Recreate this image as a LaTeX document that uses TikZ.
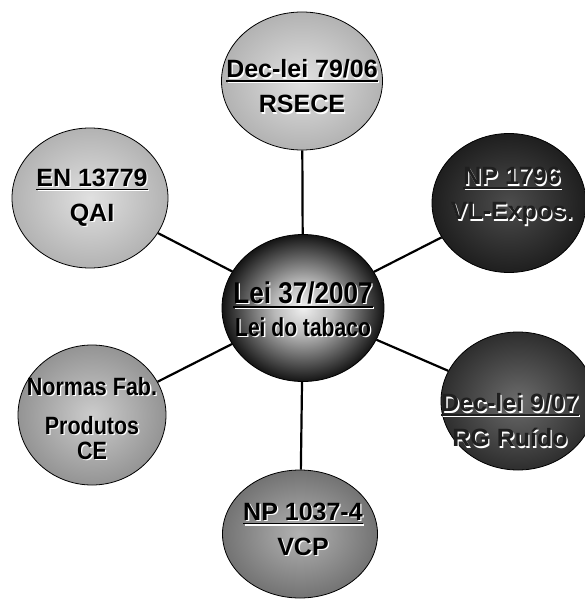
\documentclass[tikz,border=0pt]{standalone}
\usepackage{fontspec}
\setmainfont{Liberation Sans}
\usepackage{graphicx}
\usetikzlibrary{shapes.geometric}

% underline with a heavier rule, and a white drop shadow behind a line
\newcommand{\undl}[1]{\setbox0\hbox{#1}\rlap{\rule[-4pt]{\wd0}{1.6pt}}\box0}
\newcommand{\shtxt}[1]{\rlap{\kern1.3pt\raisebox{-1.3pt}{\color{white}#1}}#1}
\pgfdeclareradialshading{bolha}{\pgfpoint{0bp}{0bp}}{color(0bp)=(black!6);
  color(9bp)=(black!28); color(25bp)=(black!92); color(50bp)=(black!92)}

\begin{document}
\begin{tikzpicture}[x=1pt, y=-1pt, thick,
  bola/.style 2 args={ellipse, draw=black, line width=0.8pt, inner sep=0pt,
    shading=radial, inner color=#1, outer color=#2},
  txt/.style={align=center, inner sep=0pt,
    font=\bfseries\fontsize{25}{35}\selectfont},
  elo/.style={line width=2.2pt}]
  \useasboundingbox[fill=white] (0,0) rectangle (584,599);
  % circulos
  \node[bola={black!12}{black!30}, minimum width=161, minimum height=138] (rsece) at (302,81) {};
  \node[bola={black!12}{black!30}, minimum width=156, minimum height=140] (qai) at (90,198) {};
  \node[bola={black!70}{black!88}, minimum width=154, minimum height=139] (vlexpos) at (509,203) {};
  \node[bola={black!58}{black!82}, minimum width=154, minimum height=138] (ruido) at (518,401) {};
  \node[bola={black!20}{black!42}, minimum width=148, minimum height=140] (normas) at (92,415) {};
  \node[bola={black!30}{black!55}, minimum width=155, minimum height=128] (vcp) at (300,534) {};
  \node[bola={black!12}{black!90}, shading=bolha, minimum width=162, minimum height=147] (tabaco) at (303,308) {};
  % ligacoes
  \draw[elo] (tabaco) -- (rsece);
  \draw[elo] (tabaco) -- (qai);
  \draw[elo] (tabaco) -- (vlexpos);
  \draw[elo] (tabaco) -- (ruido);
  \draw[elo] (tabaco) -- (normas);
  \draw[elo] (tabaco) -- (vcp);
  % textos
  \node[txt] (rsece-t) at (302,87) {\shtxt{\undl{Dec-lei 79/06}}\\ \shtxt{RSECE}};
  \node[txt] (qai-t) at (92,198) {\shtxt{\undl{EN 13779}}\\ \shtxt{QAI}};
  \node[txt, text=black!88] (vlexpos-t) at (512,197) {\shtxt{\undl{NP 1796}}\\ \shtxt{VL-Expos.}};
  \node[txt, text=black!88] (ruido-t) at (510,421) {\shtxt{\undl{Dec-lei 9/07}}\\ \shtxt{RG Ruído}};
  \node[txt] (normas-t) at (92,419) {\shtxt{\scalebox{0.86}[1]{Normas Fab.}}\\[4pt]
    \shtxt{\scalebox{0.86}[1]{Produtos}}\\[-10pt] \shtxt{\scalebox{0.86}[1]{CE}}};
  \node[txt] (vcp-t) at (303,530) {\shtxt{\undl{NP 1037-4}}\\ \shtxt{VCP}};
  \node[txt] (tabaco-t) at (303,310) {\shtxt{\scalebox{0.87}[1]{\fontsize{30}{32}\selectfont\undl{Lei 37/2007}}}\\[-2pt]
    \shtxt{\scalebox{0.81}[1]{\fontsize{26}{30}\selectfont Lei do tabaco}}};
\end{tikzpicture}
\end{document}
